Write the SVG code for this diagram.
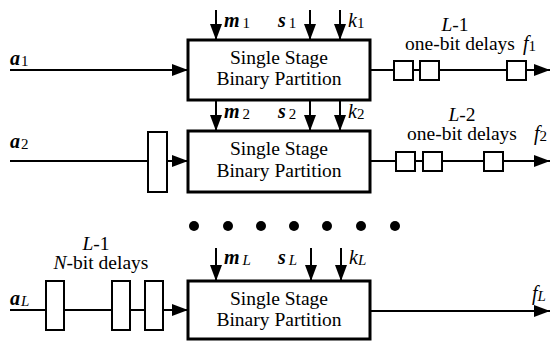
<svg xmlns="http://www.w3.org/2000/svg" width="550" height="345" viewBox="0 0 550 345">
  <style>
    .stage { fill: #fff; stroke: #000; stroke-width: 3; }
    .delay { fill: #fff; stroke: #000; stroke-width: 2; }
    .wire { fill: none; stroke: #000; stroke-width: 2; }
    .arrow { fill: none; stroke: #000; stroke-width: 2; marker-end: url(#head); }
    text { font-family: "Liberation Serif", serif; font-size: 19.5px; fill: #000; }
    .ctr { text-anchor: middle; }
    .v { font-size: 20px; font-style: italic; font-weight: bold; }
    .i { font-size: 20px; font-style: italic; }
    .sub { font-size: 15px; font-style: normal; font-weight: normal; }
    .subi { font-size: 15px; font-style: italic; font-weight: normal; }
  </style>
  <defs>
    <marker id="head" markerUnits="userSpaceOnUse" markerWidth="17" markerHeight="12" refX="16" refY="6" orient="auto">
      <path d="M0,0 L16,6 L0,12 Z" fill="#000"/>
    </marker>
  </defs>

  <!-- wires and arrows -->
  <g id="connectors">
    <!-- row 1 -->
    <line class="arrow" x1="10" y1="70" x2="188" y2="70"/>
    <line class="arrow" x1="216" y1="10" x2="216" y2="40"/>
    <line class="arrow" x1="310" y1="10" x2="310" y2="40"/>
    <line class="arrow" x1="340" y1="10" x2="340" y2="40"/>
    <line class="wire" x1="370" y1="70" x2="394" y2="70"/>
    <line class="wire" x1="413" y1="70" x2="420" y2="70"/>
    <line class="wire" x1="439" y1="70" x2="507" y2="70"/>
    <line class="arrow" x1="527" y1="70" x2="550" y2="70"/>
    <!-- row 1 to row 2 -->
    <line class="arrow" x1="216" y1="100" x2="216" y2="131"/>
    <line class="arrow" x1="310" y1="100" x2="310" y2="131"/>
    <line class="arrow" x1="340" y1="100" x2="340" y2="131"/>
    <!-- row 2 -->
    <line class="wire" x1="10" y1="161" x2="148" y2="161"/>
    <line class="arrow" x1="167" y1="161" x2="188" y2="161"/>
    <line class="wire" x1="370" y1="161" x2="396" y2="161"/>
    <line class="wire" x1="415" y1="161" x2="423" y2="161"/>
    <line class="wire" x1="442" y1="161" x2="484" y2="161"/>
    <line class="arrow" x1="503" y1="161" x2="550" y2="161"/>
    <!-- row L -->
    <line class="wire" x1="10" y1="310" x2="46" y2="310"/>
    <line class="wire" x1="64" y1="310" x2="112" y2="310"/>
    <line class="wire" x1="130" y1="310" x2="145" y2="310"/>
    <line class="arrow" x1="163" y1="310" x2="188" y2="310"/>
    <line class="arrow" x1="216" y1="248" x2="216" y2="281"/>
    <line class="arrow" x1="311" y1="248" x2="311" y2="281"/>
    <line class="arrow" x1="341" y1="248" x2="341" y2="281"/>
    <line class="arrow" x1="370" y1="311" x2="550" y2="311"/>
  </g>

  <!-- stage 1 -->
  <g id="stage1">
    <rect class="stage" x="188" y="40" width="182" height="60"/>
    <text class="ctr" x="279" y="64">Single Stage</text>
    <text class="ctr" x="279" y="85">Binary Partition</text>
  </g>
  <g id="delays1">
    <rect class="delay" x="394" y="61" width="19" height="19"/>
    <rect class="delay" x="420" y="61" width="19" height="19"/>
    <rect class="delay" x="507" y="61" width="19" height="19"/>
  </g>

  <!-- stage 2 -->
  <g id="stage2">
    <rect class="stage" x="188" y="131" width="182" height="61"/>
    <text class="ctr" x="279" y="155">Single Stage</text>
    <text class="ctr" x="279" y="177">Binary Partition</text>
  </g>
  <g id="delays2">
    <rect class="delay" x="396" y="152" width="19" height="19"/>
    <rect class="delay" x="423" y="152" width="19" height="19"/>
    <rect class="delay" x="484" y="152" width="19" height="19"/>
  </g>
  <g id="ndelay2">
    <rect class="delay" x="148" y="132" width="19" height="60"/>
  </g>

  <!-- continuation dots -->
  <g id="ellipsis" fill="#000">
    <circle cx="194" cy="226" r="5"/>
    <circle cx="228" cy="226" r="5"/>
    <circle cx="261" cy="226" r="5"/>
    <circle cx="294" cy="226" r="5"/>
    <circle cx="327" cy="226" r="5"/>
    <circle cx="361" cy="226" r="5"/>
    <circle cx="395" cy="226" r="5"/>
  </g>

  <!-- stage L -->
  <g id="stageL">
    <rect class="stage" x="188" y="281" width="182" height="58"/>
    <text class="ctr" x="279" y="305">Single Stage</text>
    <text class="ctr" x="279" y="326">Binary Partition</text>
  </g>
  <g id="ndelaysL">
    <rect class="delay" x="46" y="281" width="18" height="49"/>
    <rect class="delay" x="112" y="281" width="18" height="49"/>
    <rect class="delay" x="145" y="281" width="18" height="49"/>
  </g>

  <!-- signal labels -->
  <g id="labels">
    <text class="v" x="10" y="65">a<tspan class="sub" dx="1" dy="1">1</tspan></text>
    <text class="v" x="224" y="27">m<tspan class="sub" dx="3" dy="1">1</tspan></text>
    <text class="v" x="278" y="27">s<tspan class="sub" dx="3" dy="1">1</tspan></text>
    <text class="i" x="348" y="27">k<tspan class="sub" dy="1">1</tspan></text>
    <text class="ctr" x="455" y="31"><tspan font-style="italic">L</tspan>-1</text>
    <text class="ctr" x="460" y="50">one-bit delays</text>
    <text class="i" x="523" y="50">f<tspan class="sub" dy="1">1</tspan></text>

    <text class="v" x="224" y="118">m<tspan class="sub" dx="3" dy="1">2</tspan></text>
    <text class="v" x="278" y="118">s<tspan class="sub" dx="3" dy="1">2</tspan></text>
    <text class="i" x="348" y="118">k<tspan class="sub" dy="1">2</tspan></text>
    <text class="v" x="10" y="148">a<tspan class="sub" dx="1" dy="1">2</tspan></text>
    <text class="ctr" x="462" y="121"><tspan font-style="italic">L</tspan>-2</text>
    <text class="ctr" x="462" y="140">one-bit delays</text>
    <text class="i" x="534" y="140">f<tspan class="sub" dy="1">2</tspan></text>

    <text class="ctr" x="96" y="250"><tspan font-style="italic">L</tspan>-1</text>
    <text class="ctr" x="101" y="269"><tspan font-style="italic">N</tspan>-bit delays</text>
    <text class="v" x="10" y="305">a<tspan class="subi" dx="1" dy="1">L</tspan></text>
    <text class="v" x="224" y="264">m<tspan class="subi" dx="3" dy="1">L</tspan></text>
    <text class="v" x="278" y="264">s<tspan class="subi" dx="3" dy="1">L</tspan></text>
    <text class="i" x="349" y="264">k<tspan class="subi" dy="1">L</tspan></text>
    <text class="i" x="532" y="300">f<tspan class="subi" dy="1">L</tspan></text>
  </g>
</svg>
